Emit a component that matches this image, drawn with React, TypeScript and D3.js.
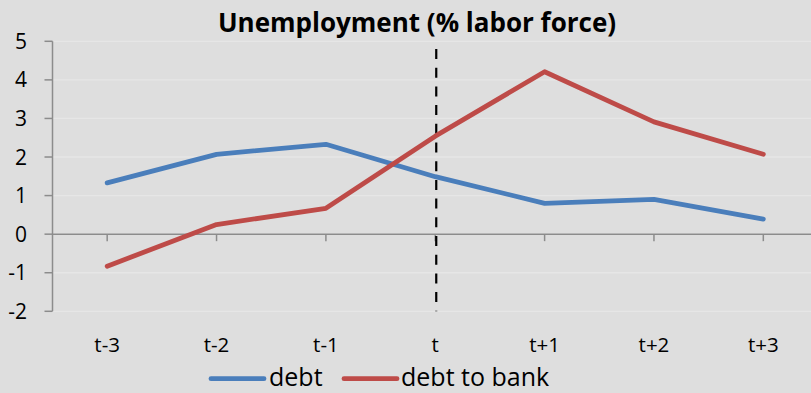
import React from "react";
import * as d3 from "d3";

const categories = ["t-3", "t-2", "t-1", "t", "t+1", "t+2", "t+3"];
const debt = [1.33, 2.07, 2.33, 1.49, 0.8, 0.9, 0.39];
const debtToBank = [-0.83, 0.25, 0.67, 2.54, 4.21, 2.91, 2.07];
const yTicks = [-2, -1, 0, 1, 2, 3, 4, 5];
const seriesNames = ["debt", "debt to bank"];
const title = "Unemployment (% labor force)";
const markerCategory = "t";

const W = 811;
const H = 393;
const FONT = "'Open Sans', 'Noto Sans', sans-serif";

export default function App() {
  const x = d3.scaleBand<string>().domain(categories).range([52.5, 818]);
  const cx = (c: string) => (x(c) as number) + x.bandwidth() / 2;
  const y = d3.scaleLinear().domain([-2, 5]).range([311.3, 41.3]);
  const line = d3
    .line<number>()
    .x((_, i) => cx(categories[i]))
    .y((d) => y(d));
  const colors = ["#4A7EBB", "#BE4B48"];
  const series = [debt, debtToBank];
  const x0 = 52.5;

  return (
    <svg
      width={W}
      height={H}
      style={{ position: "absolute", left: 0, top: 0, display: "block" }}
      fontFamily={FONT}
    >
      <rect x={0} y={0} width={W} height={H} fill="#DEDEDE" />
      {yTicks.map((t) => (
        <line
          key={"g" + t}
          x1={x0}
          x2={W}
          y1={y(t)}
          y2={y(t)}
          stroke="#E6E6E6"
          strokeWidth={1.3}
        />
      ))}
      {/* y axis */}
      <line x1={x0} x2={x0} y1={y(5)} y2={y(-2)} stroke="#8C8C8C" strokeWidth={1.5} />
      {yTicks.map((t) => (
        <g key={"yt" + t}>
          <line x1={x0 - 8} x2={x0} y1={y(t)} y2={y(t)} stroke="#8C8C8C" strokeWidth={1.5} />
          <text
            x={27}
            y={y(t)}
            dy="0.36em"
            textAnchor="end"
            fontSize={21}
            fill="#000"
          >
            {t}
          </text>
        </g>
      ))}
      {/* x axis at 0 */}
      <line x1={x0} x2={W} y1={y(0)} y2={y(0)} stroke="#8C8C8C" strokeWidth={1.5} />
      {categories.map((c) => (
        <g key={"xt" + c}>
          <line x1={cx(c)} x2={cx(c)} y1={y(0)} y2={y(0) + 7} stroke="#8C8C8C" strokeWidth={1.5} />
          <text x={cx(c)} y={352} textAnchor="middle" fontSize={20.5} fill="#000">
            {c}
          </text>
        </g>
      ))}
      {/* dashed marker */}
      <line
        x1={cx(markerCategory) + 1}
        x2={cx(markerCategory) + 1}
        y1={49}
        y2={y(-2)}
        stroke="#000"
        strokeWidth={2.2}
        strokeDasharray="10 8.7"
      />
      {series.map((s, i) => (
        <path
          key={"s" + i}
          d={line(s) as string}
          fill="none"
          stroke={colors[i]}
          strokeWidth={4.8}
          strokeLinejoin="round"
          strokeLinecap="round"
        />
      ))}
      <text
        x={417}
        y={32}
        textAnchor="middle"
        fontSize={26}
        fontWeight={700}
        fill="#000"
      >
        {title}
      </text>
      {/* legend */}
      <line x1={211} x2={264} y1={378.7} y2={378.7} stroke={colors[0]} strokeWidth={4.8} strokeLinecap="round" />
      <text x={269} y={385.5} fontSize={25} fill="#000">
        {seriesNames[0]}
      </text>
      <line x1={344} x2={397} y1={378.7} y2={378.7} stroke={colors[1]} strokeWidth={4.8} strokeLinecap="round" />
      <text x={401} y={385.5} fontSize={25} fill="#000">
        {seriesNames[1]}
      </text>
    </svg>
  );
}
